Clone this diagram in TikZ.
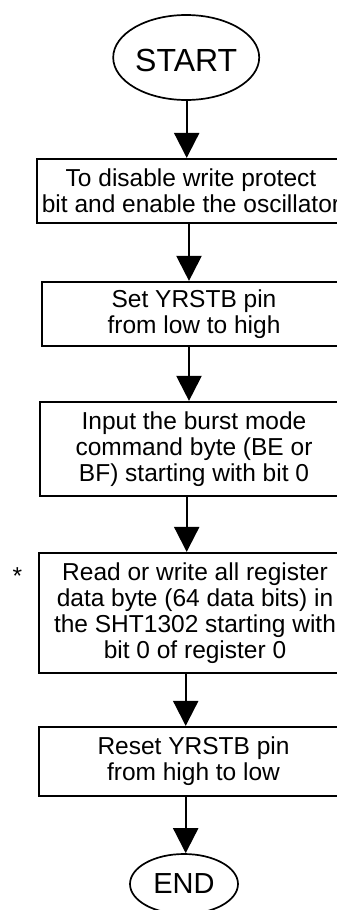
\documentclass[tikz,border=0pt]{standalone}
\usepackage{fontspec}
\setmainfont{Liberation Sans}
\usetikzlibrary{arrows.meta,shapes.geometric}
\begin{document}
\begin{tikzpicture}[x=1pt,y=-1pt,
  box/.style={draw, rectangle, line width=2.2pt, align=center, inner sep=0pt,
    font=\fontsize{24.5pt}{26pt}\selectfont},
  term/.style={draw, ellipse, line width=1.7pt, inner sep=0pt},
  flow/.style={line width=2.2pt, -{Triangle[length=25pt,width=25pt]}}]
\useasboundingbox (0,0) rectangle (337,910);
\clip (0,0) rectangle (337,910);
% terminals
\node[term, minimum width=146pt, minimum height=85pt, text height=29pt,
  font=\fontsize{32pt}{34pt}\selectfont] (start) at (186.2,57.5) {START};
\node[term, minimum width=108pt, minimum height=60pt,
  font=\fontsize{29pt}{31pt}\selectfont] (end) at (184,884) {END};
% process boxes
\node[box, minimum width=308pt, minimum height=64pt] (b1) at (191,191)
  {To disable write protect\\bit and enable the oscillator};
\node[box, minimum width=304pt, minimum height=64pt] (b2) at (194,314)
  {Set YRSTB pin\\from low to high};
\node[box, minimum width=308pt, minimum height=94pt] (b3) at (194,449)
  {Input the burst mode\\command byte (BE or\\BF) starting with bit 0};
\node[box, minimum width=312pt, minimum height=120pt] (b4) at (195,613)
  {Read or write all register\\data byte (64 data bits) in\\the SHT1302 starting with\\bit 0 of register 0};
\node[box, minimum width=309pt, minimum height=69pt] (b5) at (193.5,761.5)
  {Reset YRSTB pin\\from high to low};
\node[anchor=base, inner sep=0pt, font=\fontsize{24.5pt}{26pt}\selectfont] (star) at (17.5,584) {*};
% spine x positions
\coordinate (x1) at (186.7,0);
\coordinate (x2) at (189,0);
\coordinate (x3) at (189,0);
\coordinate (x4) at (186.7,0);
\coordinate (x5) at (185.7,0);
\coordinate (x6) at (185.7,0);
% connectors
\draw[flow] (start.south -| x1) -- (b1.north -| x1);
\draw[flow] (b1.south -| x2) -- (b2.north -| x2);
\draw[flow] (b2.south -| x3) -- (b3.north -| x3);
\draw[flow] (b3.south -| x4) -- (b4.north -| x4);
\draw[flow] (b4.south -| x5) -- (b5.north -| x5);
\draw[flow] (b5.south -| x6) -- (end.north -| x6);
\end{tikzpicture}
\end{document}
